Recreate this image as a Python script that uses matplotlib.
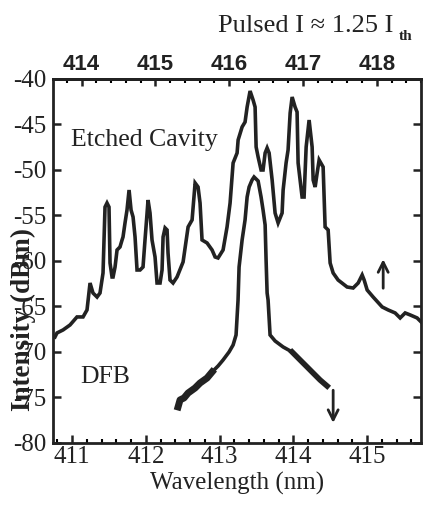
import matplotlib
matplotlib.use("Agg")
import matplotlib.pyplot as plt
from matplotlib.ticker import MultipleLocator

plt.rcParams['font.family'] = ['Liberation Serif', 'DejaVu Serif']
plt.rcParams['axes.unicode_minus'] = False

# etched cavity spectrum (wavelength nm, intensity dBm)
ec_wl = [410.769, 410.796, 410.878, 410.973, 411.067, 411.149, 411.203, 411.244, 411.284, 411.339,
         411.379, 411.420, 411.447, 411.474, 411.501, 411.515, 411.542, 411.556, 411.583, 411.610,
         411.650, 411.678, 411.691, 411.718, 411.745, 411.773, 411.800, 411.827, 411.854, 411.881,
         411.922, 411.962, 411.989, 412.017, 412.030, 412.057, 412.084, 412.125, 412.152, 412.193,
         412.220, 412.234, 412.261, 412.288, 412.301, 412.328, 412.369, 412.423, 412.505, 412.573,
         412.627, 412.668, 412.708, 412.735, 412.762, 412.830, 412.898, 412.939, 412.979, 413.047,
         413.101, 413.142, 413.183, 413.237, 413.251, 413.305, 413.345, 413.373, 413.413, 413.454,
         413.481, 413.495, 413.522, 413.562, 413.589, 413.617, 413.644, 413.671, 413.712, 413.752,
         413.793, 413.847, 413.861, 413.901, 413.928, 413.956, 413.983, 414.023, 414.050, 414.064,
         414.118, 414.145, 414.173, 414.213, 414.254, 414.268, 414.295, 414.322, 414.349, 414.403,
         414.430, 414.471, 414.498, 414.539, 414.606, 414.728, 414.810, 414.878, 414.932, 414.959,
         415.000, 415.081, 415.203, 415.284, 415.379, 415.447, 415.515, 415.583, 415.677, 415.745]
ec_db = [-68.35, -67.91, -67.58, -67.03, -66.15, -66.15, -65.38, -62.42, -63.52, -63.96,
         -63.52, -61.32, -54.07, -53.63, -54.07, -60.22, -61.76, -61.76, -60.66, -58.79,
         -58.46, -57.69, -57.36, -55.82, -54.40, -52.20, -54.40, -55.16, -57.36, -60.99,
         -60.99, -60.66, -57.69, -54.73, -53.30, -54.73, -57.69, -59.56, -62.42, -62.42,
         -60.99, -57.36, -56.37, -56.59, -59.12, -62.09, -62.42, -61.76, -60.11, -56.26,
         -55.49, -51.43, -51.87, -53.63, -57.69, -58.02, -58.79, -59.56, -59.67, -58.79,
         -56.26, -53.63, -49.23, -48.13, -46.70, -45.27, -44.73, -43.08, -41.32, -42.31,
         -43.08, -47.47, -48.57, -50.00, -50.00, -48.13, -47.58, -48.13, -51.10, -54.73,
         -55.82, -54.73, -52.20, -49.23, -47.80, -43.74, -41.98, -43.08, -43.63, -49.23,
         -52.97, -52.97, -47.47, -44.51, -47.47, -51.10, -51.87, -50.33, -48.90, -49.67,
         -56.26, -56.59, -60.22, -61.32, -62.09, -62.86, -62.97, -62.42, -61.54, -62.09,
         -63.19, -63.96, -65.05, -65.38, -65.71, -66.26, -65.71, -65.93, -66.26, -66.81]

# DFB spectrum
dfb_wl = [412.437, 412.464, 412.518, 412.573, 412.667, 412.735, 412.830, 412.898, 412.979, 413.047,
          413.128, 413.183, 413.223, 413.250, 413.264, 413.305, 413.345, 413.373, 413.400, 413.440,
          413.467, 413.522, 413.562, 413.589, 413.617, 413.630, 413.644, 413.657, 413.684, 413.752,
          413.861, 413.983, 414.091, 414.186, 414.267, 414.362, 414.457]
dfb_db = [-76.04, -75.27, -75.05, -74.51, -73.96, -73.41, -72.86, -72.20, -71.54, -70.88,
          -70.00, -69.23, -68.13, -64.29, -60.66, -57.69, -55.49, -52.97, -51.87, -51.10,
          -50.77, -51.21, -52.97, -54.40, -56.04, -59.89, -63.52, -64.29, -68.13, -68.79,
          -69.45, -70.00, -70.88, -71.65, -72.31, -73.08, -73.74]

top_offset = 2.87
top_ticks = [414, 415, 416, 417, 418]
col = '#222222'

fig = plt.figure(figsize=(4.24, 5.08), dpi=100)
ax = fig.add_axes([0.125, 0.128, 0.868, 0.7165])

ax.plot(ec_wl, ec_db, color=col, lw=2.6, solid_joinstyle='miter')
ax.plot(dfb_wl, dfb_db, color=col, lw=2.6, solid_joinstyle='miter')
# noisy tails of the DFB trace look thicker
ax.plot(dfb_wl[:8], dfb_db[:8], color=col, lw=5)
ax.plot(dfb_wl[31:], dfb_db[31:], color=col, lw=4)

ax.set_xlim(410.742, 415.73)
ax.set_ylim(-80, -40)
ax.xaxis.set_major_locator(MultipleLocator(1))
ax.xaxis.set_minor_locator(MultipleLocator(0.2))
ax.yaxis.set_major_locator(MultipleLocator(5))
ax.tick_params(axis='both', direction='in', width=1.8, length=6, labelsize=18, colors=col)
ax.tick_params(axis='x', pad=2)
ax.tick_params(axis='y', pad=5, right=True)
ax.tick_params(axis='x', which='minor', direction='in', width=1.5, length=3)
for s in ax.spines.values():
    s.set_linewidth(2)
    s.set_color(col)

sec = ax.secondary_xaxis('top', functions=(lambda x: x + top_offset, lambda x: x - top_offset))
sec.set_xticks(top_ticks)
sec.xaxis.set_minor_locator(MultipleLocator(0.2))
sec.tick_params(direction='in', width=1.8, length=5, colors=col, pad=3)
sec.tick_params(which='minor', direction='in', width=1.5, length=3)
for lab in sec.get_xticklabels():
    lab.set_fontfamily('Liberation Sans')
    lab.set_fontweight('bold')
    lab.set_fontsize(16)
sec.spines['top'].set_linewidth(2)

ax.set_xlabel('Wavelength (nm)', fontsize=18, color=col, labelpad=3)
ax.text(-0.08, 0.338, 'Intensity (dBm)', transform=ax.transAxes, rotation=90,
        ha='center', va='center', fontsize=19.5, fontweight='bold', color=col)

ax.text(0.05, 0.815, 'Etched Cavity', transform=ax.transAxes, fontsize=18.5, color=col)
ax.text(0.075, 0.164, 'DFB', transform=ax.transAxes, fontsize=18.5, color=col)

ax.annotate('', xy=(415.217, -59.5), xytext=(415.217, -63.3),
            arrowprops=dict(arrowstyle='->', lw=2, color=col, mutation_scale=18))
ax.annotate('', xy=(414.539, -78.1), xytext=(414.539, -73.9),
            arrowprops=dict(arrowstyle='->', lw=2, color=col, mutation_scale=18))

fig.text(0.928, 0.937, 'Pulsed I \u2248 1.25 I', ha='right', va='baseline', fontsize=19, color=col)
fig.text(0.94, 0.922, 'th', ha='left', va='baseline', fontsize=11, fontweight='bold', color=col)

fig.savefig('out.png', dpi=100)
